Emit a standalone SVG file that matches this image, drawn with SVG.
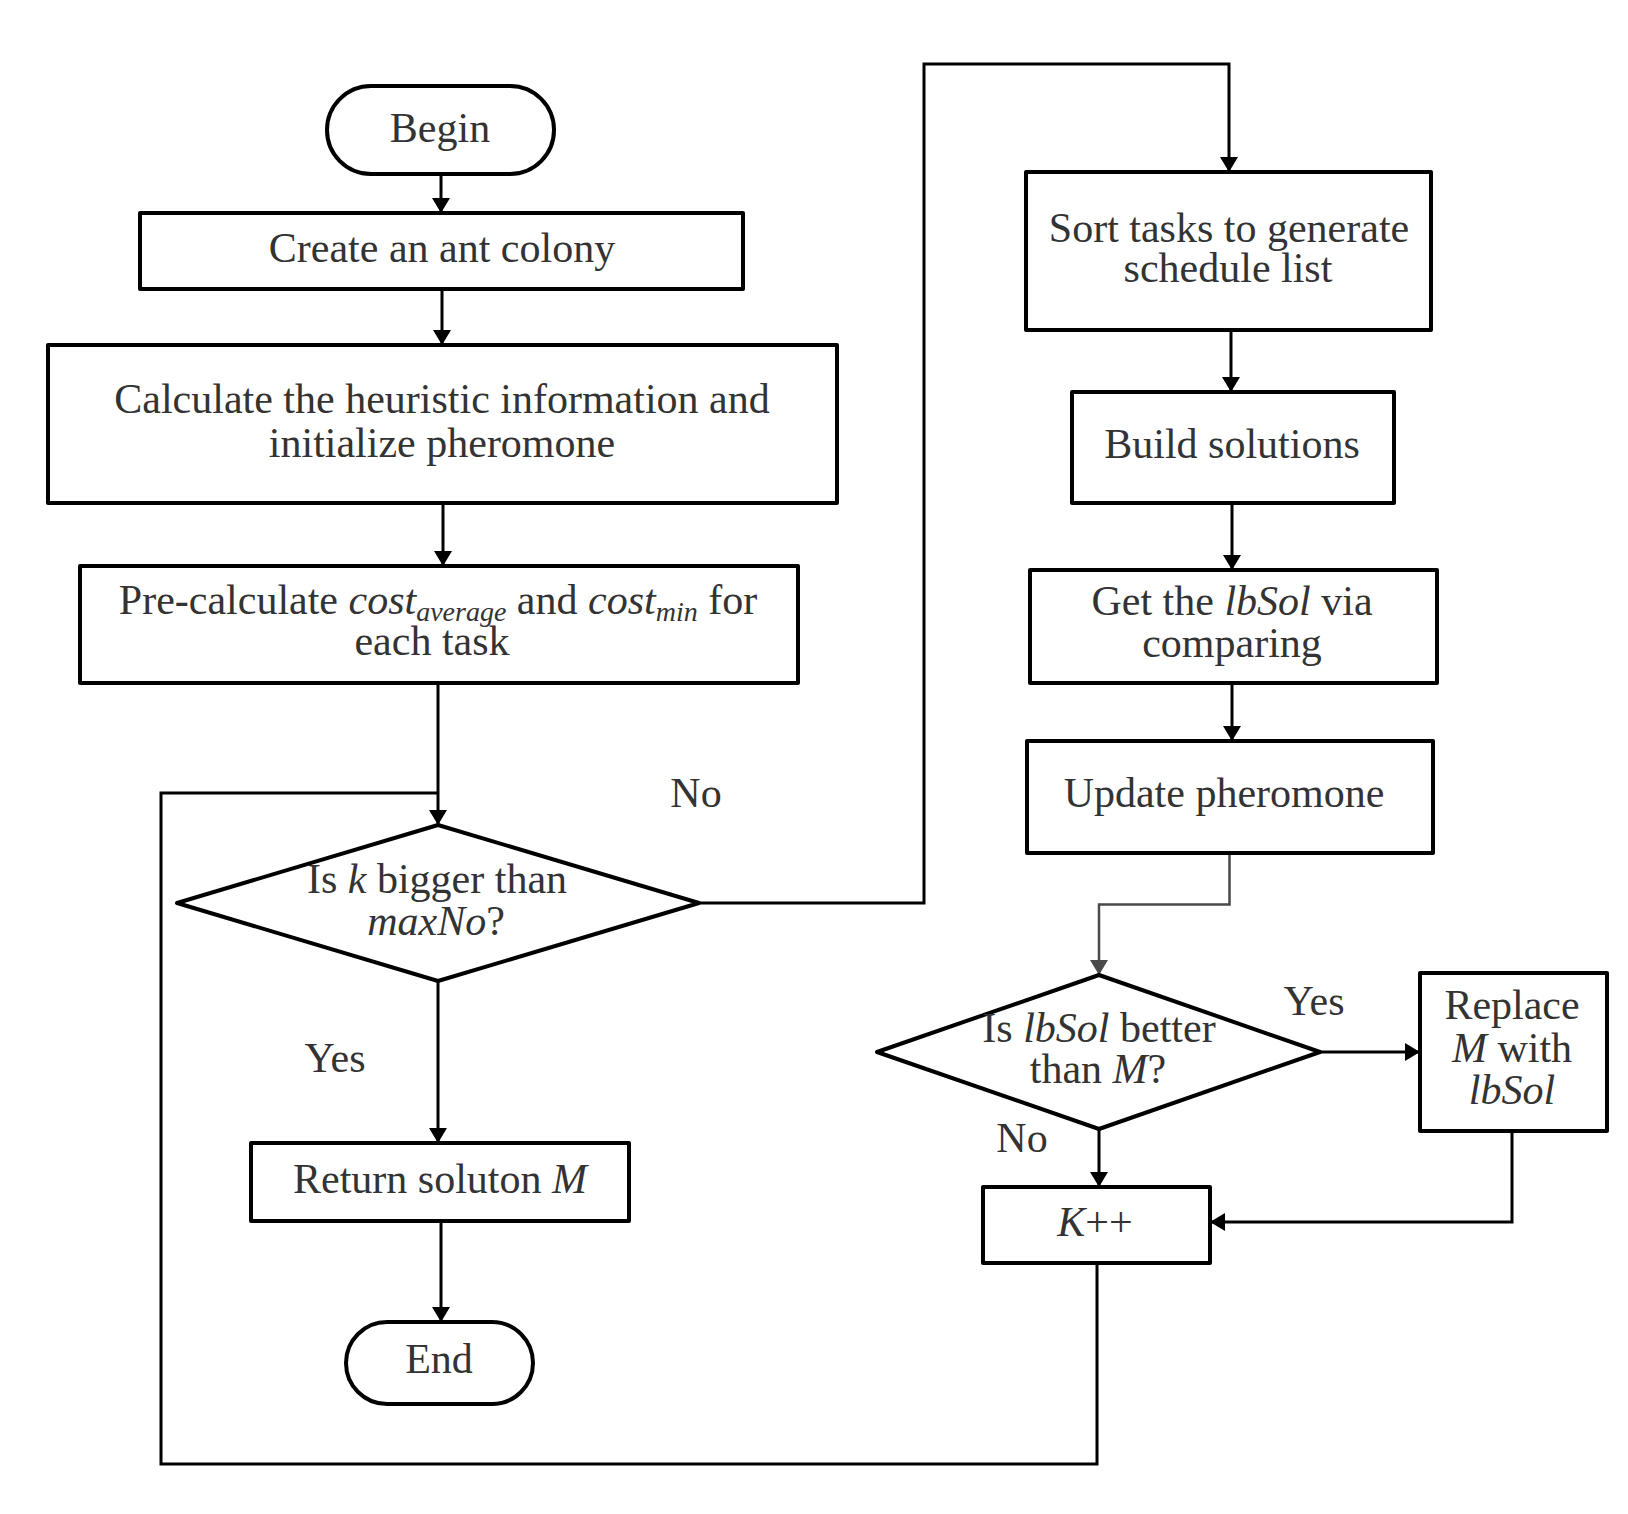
<svg xmlns="http://www.w3.org/2000/svg" width="1628" height="1514" viewBox="0 0 1628 1514">
<style>
.box{fill:#fff;stroke:#000;stroke-width:4;stroke-linejoin:round}
.t{font-family:"Liberation Serif","Times New Roman",serif;font-size:42px;fill:#333;text-anchor:middle}
.i{font-style:italic}
.c{fill:none;stroke:#000;stroke-width:3}
.g{fill:none;stroke:#4a4a4a;stroke-width:2.5}
</style>
<defs>
<marker id="a" markerUnits="userSpaceOnUse" markerWidth="16" markerHeight="20" refX="15" refY="9" orient="auto">
<path d="M0,0 L15,9 L0,18 z" fill="#000"/>
</marker>
<marker id="ag" markerUnits="userSpaceOnUse" markerWidth="16" markerHeight="20" refX="15" refY="9" orient="auto">
<path d="M0,0 L15,9 L0,18 z" fill="#4a4a4a"/>
</marker>
</defs>
<rect width="1628" height="1514" fill="#fff"/>
<g id="connectors">
<path class="c" d="M441,175 V213" marker-end="url(#a)"/>
<path class="c" d="M442,289 V345" marker-end="url(#a)"/>
<path class="c" d="M443,504 V566" marker-end="url(#a)"/>
<path class="c" d="M438,683 V825" marker-end="url(#a)"/>
<path class="c" d="M1097,1263 V1464 H161 V793 H438"/>
<path class="c" d="M699,903 H924 V64 H1229 V172" marker-end="url(#a)"/>
<path class="c" d="M1231,330 V392" marker-end="url(#a)"/>
<path class="c" d="M1232,503 V570" marker-end="url(#a)"/>
<path class="c" d="M1232,683 V741" marker-end="url(#a)"/>
<path class="g" d="M1229.5,853 V904.5 H1099 V975" marker-end="url(#ag)"/>
<path class="c" d="M1320,1052 H1420" marker-end="url(#a)"/>
<path class="c" d="M1099,1129 V1187" marker-end="url(#a)"/>
<path class="c" d="M1512,1131 V1222 H1210" marker-end="url(#a)"/>
<path class="c" d="M438,981 V1143" marker-end="url(#a)"/>
<path class="c" d="M441,1221 V1322" marker-end="url(#a)"/>
</g>
<g id="begin">
<rect class="box" x="327" y="86" width="227" height="88" rx="44"/>
<text class="t" x="440" y="142">Begin</text>
</g>
<g id="create">
<rect class="box" x="140" y="213" width="603" height="76"/>
<text class="t" x="442" y="262">Create an ant colony</text>
</g>
<g id="calc">
<rect class="box" x="48" y="345" width="789" height="158"/>
<text class="t" x="442" y="413">Calculate the heuristic information and</text>
<text class="t" x="442" y="457">initialize pheromone</text>
</g>
<g id="precalc">
<rect class="box" x="80" y="566" width="718" height="117"/>
<text class="t" x="438" y="614">Pre-calculate <tspan class="i">cost</tspan><tspan class="i" font-size="28" dy="7">average</tspan><tspan dy="-7"> and </tspan><tspan class="i">cost</tspan><tspan class="i" font-size="28" dy="7">min</tspan><tspan dy="-7"> for</tspan></text>
<text class="t" x="432" y="655">each task</text>
</g>
<g id="decision-k">
<polygon class="box" points="438,825 699,903 438,981 177,903"/>
<text class="t" x="437" y="893">Is <tspan class="i">k</tspan> bigger than</text>
<text class="t" x="436" y="935"><tspan class="i">maxNo</tspan>?</text>
</g>
<g id="label-no-1">
<text class="t" x="696" y="807">No</text>
</g>
<g id="label-yes-1">
<text class="t" x="335" y="1072">Yes</text>
</g>
<g id="return">
<rect class="box" x="251" y="1143" width="378" height="78"/>
<text class="t" x="440" y="1193">Return soluton <tspan class="i">M</tspan></text>
</g>
<g id="end">
<rect class="box" x="346" y="1322" width="187" height="82" rx="41"/>
<text class="t" x="439" y="1373">End</text>
</g>
<g id="sort">
<rect class="box" x="1026" y="172" width="405" height="158"/>
<text class="t" x="1229" y="242">Sort tasks to generate</text>
<text class="t" x="1228" y="282">schedule list</text>
</g>
<g id="build">
<rect class="box" x="1072" y="392" width="322" height="111"/>
<text class="t" x="1232" y="458">Build solutions</text>
</g>
<g id="get">
<rect class="box" x="1030" y="570" width="407" height="113"/>
<text class="t" x="1232" y="615">Get the <tspan class="i">lbSol</tspan> via</text>
<text class="t" x="1232" y="657">comparing</text>
</g>
<g id="update">
<rect class="box" x="1027" y="741" width="406" height="112"/>
<text class="t" x="1224" y="807">Update pheromone</text>
</g>
<g id="decision-lbsol">
<polygon class="box" points="1099,975 1320,1052 1099,1129 877,1052"/>
<text class="t" x="1099" y="1042">Is <tspan class="i">lbSol</tspan> better</text>
<text class="t" x="1098" y="1083">than <tspan class="i">M</tspan>?</text>
</g>
<g id="label-yes-2">
<text class="t" x="1314" y="1015">Yes</text>
</g>
<g id="label-no-2">
<text class="t" x="1022" y="1152">No</text>
</g>
<g id="replace">
<rect class="box" x="1420" y="973" width="187" height="158"/>
<text class="t" x="1512" y="1019">Replace</text>
<text class="t" x="1512" y="1062"><tspan class="i">M</tspan> with</text>
<text class="t" x="1512" y="1104" font-style="italic">lbSol</text>
</g>
<g id="kplus">
<rect class="box" x="983" y="1187" width="227" height="76"/>
<text class="t" x="1095" y="1236"><tspan class="i">K</tspan>++</text>
</g>
</svg>
